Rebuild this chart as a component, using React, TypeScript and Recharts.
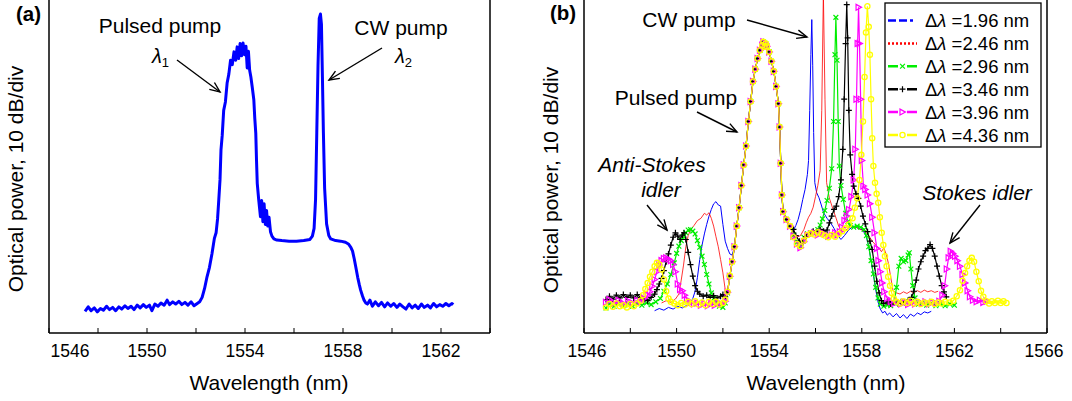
import React from "react";
import { LineChart, Line, XAxis, YAxis } from "recharts";

type Pt = [number, number];

const FONT = '"Liberation Sans", Arial, Helvetica, sans-serif';

// power is in dB above the bottom of the frame (10 dB per division, 6 divisions)
const powerTicks = [10, 20, 30, 40, 50];
const ticksA = [1546, 1548, 1550, 1552, 1554, 1556, 1558, 1560, 1562, 1564];
const ticksB = [1546, 1548, 1550, 1552, 1554, 1556, 1558, 1560, 1562, 1564, 1566];

// (a) pulsed pump + CW pump
const spectrumA: Pt[] = [
  [1547.47, 3.9], [1547.6, 4.7], [1547.72, 4.0], [1547.85, 4.5], [1547.97, 3.8], [1548.1, 4.4],
  [1548.22, 4.1], [1548.35, 4.8], [1548.47, 4.2], [1548.6, 4.6], [1548.72, 4.0], [1548.85, 4.7],
  [1548.97, 4.3], [1549.1, 4.9], [1549.22, 4.4], [1549.35, 4.8], [1549.47, 4.2], [1549.6, 5.0],
  [1549.72, 4.5], [1549.85, 5.1], [1549.97, 4.6], [1550.1, 5.0], [1550.2, 4.0], [1550.32, 5.2],
  [1550.45, 4.8], [1550.57, 5.4], [1550.7, 5.0], [1550.82, 5.9], [1550.92, 5.1], [1551.05, 5.6],
  [1551.17, 5.2], [1551.3, 5.7], [1551.42, 5.1], [1551.55, 5.5], [1551.67, 5.0], [1551.8, 5.6],
  [1551.92, 4.9], [1552.05, 5.3], [1552.15, 5.6], [1552.25, 6.4], [1552.35, 8.0], [1552.45, 10.1],
  [1552.55, 11.8], [1552.65, 14.2], [1552.75, 17.0], [1552.82, 18.0], [1552.88, 20.5], [1552.93, 23.9],
  [1552.98, 27.5], [1553.02, 32.9], [1553.07, 35.5], [1553.13, 40.0], [1553.2, 41.5], [1553.27, 44.9],
  [1553.34, 46.5], [1553.41, 49.0], [1553.48, 48.2], [1553.55, 50.5], [1553.62, 49.0], [1553.68, 51.4],
  [1553.74, 49.3], [1553.8, 52.0], [1553.86, 49.8], [1553.92, 52.1], [1553.98, 50.0], [1554.04, 51.5],
  [1554.09, 47.6], [1554.14, 50.6], [1554.19, 47.2], [1554.24, 46.0], [1554.3, 44.0], [1554.36, 41.9],
  [1554.4, 38.5], [1554.44, 35.9], [1554.47, 31.0], [1554.5, 26.9], [1554.56, 23.9], [1554.63, 20.9],
  [1554.68, 23.8], [1554.73, 20.0], [1554.78, 23.2], [1554.83, 19.5], [1554.88, 22.0], [1554.93, 19.2],
  [1554.98, 20.8], [1555.04, 18.2], [1555.1, 17.4], [1555.18, 16.9], [1555.3, 16.7], [1555.5, 16.6],
  [1555.8, 16.5], [1556.1, 16.5], [1556.4, 16.6], [1556.65, 16.8], [1556.75, 17.4], [1556.82, 18.8],
  [1556.88, 24], [1556.93, 36], [1556.98, 48], [1557.03, 56.5], [1557.08, 57.3], [1557.12, 55.5],
  [1557.16, 46], [1557.2, 36], [1557.25, 26], [1557.33, 19.6], [1557.42, 17.5], [1557.5, 16.9],
  [1557.7, 16.6], [1557.9, 16.5], [1558.1, 16.3], [1558.22, 16.0], [1558.32, 15.4], [1558.39, 14.7],
  [1558.46, 13.3], [1558.52, 11.9], [1558.6, 10.0], [1558.67, 8.6], [1558.72, 7.7], [1558.8, 6.6],
  [1558.86, 5.9], [1558.93, 5.4], [1559.0, 5.2], [1559.1, 5.9], [1559.2, 4.8], [1559.32, 5.6],
  [1559.45, 4.9], [1559.57, 5.5], [1559.7, 4.7], [1559.82, 5.4], [1559.95, 4.8], [1560.07, 5.3],
  [1560.2, 4.6], [1560.32, 5.2], [1560.45, 4.7], [1560.57, 4.3], [1560.7, 5.2], [1560.82, 4.5],
  [1560.95, 5.0], [1561.07, 4.4], [1561.2, 5.2], [1561.32, 4.6], [1561.45, 5.0], [1561.57, 4.5],
  [1561.7, 5.3], [1561.82, 4.7], [1561.95, 5.1], [1562.07, 4.8], [1562.2, 5.3], [1562.32, 4.9],
  [1562.45, 5.3], [1562.5, 5.1],
];

// (b) the pulsed pump is the same in every trace
const pumpCore: Pt[] = [
  [1552.5, 15.5], [1552.6, 19.2], [1552.7, 22.5], [1552.8, 26.5], [1552.9, 30.2], [1553.0, 33.6],
  [1553.1, 38.0], [1553.2, 41.6], [1553.3, 45.2], [1553.4, 47.4], [1553.5, 49.3], [1553.6, 50.8],
  [1553.7, 51.7], [1553.75, 52.3], [1553.8, 51.4], [1553.85, 52.0], [1553.9, 51.5], [1554.0, 50.5],
  [1554.1, 48.8], [1554.2, 47.0], [1554.3, 44.3], [1554.4, 41.2], [1554.45, 37.0], [1554.5, 30.5],
  [1554.55, 24.8], [1554.6, 21.8], [1554.75, 20.4], [1554.9, 19.2],
];

const blueLeft: Pt[] = [
  [1549.05, 4.0], [1549.25, 4.4], [1549.45, 4.1], [1549.65, 4.6], [1549.85, 4.3], [1550.05, 4.8],
  [1550.25, 4.5], [1550.45, 5.0], [1550.6, 5.4], [1550.7, 6.2], [1550.8, 7.5], [1550.9, 10],
  [1551.0, 13.2], [1551.1, 15.8], [1551.2, 17.8], [1551.3, 19.5], [1551.4, 21], [1551.5, 22.2],
  [1551.6, 23.2], [1551.7, 23.6], [1551.8, 23.0], [1551.9, 22.8], [1552.0, 19.5], [1552.1, 16.5],
  [1552.2, 15.2], [1552.3, 14.2], [1552.4, 14.0],
];
const blueRight: Pt[] = [
  [1555.05, 18.5], [1555.15, 19.3], [1555.25, 20.4], [1555.35, 22], [1555.45, 24], [1555.55, 25.8],
  [1555.65, 28.5], [1555.7, 31], [1555.75, 40], [1555.8, 50], [1555.84, 56.3], [1555.88, 48],
  [1555.92, 36], [1555.97, 27], [1556.05, 25.2], [1556.15, 24.3], [1556.25, 23], [1556.35, 21.6],
  [1556.5, 20.6], [1556.65, 19.8], [1556.8, 18.8], [1556.95, 17.6], [1557.1, 16.8], [1557.25, 17.5],
  [1557.45, 18.6], [1557.65, 19.2], [1557.85, 18.8], [1558.05, 18.5], [1558.2, 17.2], [1558.3, 15.5],
  [1558.4, 13], [1558.5, 10.5], [1558.6, 7.8], [1558.7, 5.6], [1558.8, 4.3], [1558.9, 3.6],
  [1559.0, 3.9], [1559.1, 3.2], [1559.2, 3.6], [1559.35, 2.9], [1559.5, 3.5], [1559.65, 2.7],
  [1559.8, 3.3], [1559.95, 2.6], [1560.1, 3.4], [1560.25, 3.0], [1560.4, 3.6], [1560.55, 3.3],
  [1560.7, 3.8], [1560.85, 3.6], [1561.0, 3.9],
];

const redLeft: Pt[] = [
  [1549.35, 5.4], [1549.55, 5.8], [1549.75, 5.5], [1549.95, 6.1], [1550.1, 7.0], [1550.2, 9.5],
  [1550.3, 12.2], [1550.4, 15.5], [1550.5, 17.5], [1550.6, 18.5], [1550.75, 19.3], [1550.9, 20.2],
  [1551.05, 20.6], [1551.2, 21.5], [1551.3, 21.2], [1551.4, 21.6], [1551.5, 20.6], [1551.6, 19.2],
  [1551.7, 17.3], [1551.8, 15.5], [1551.9, 13.2], [1552.0, 10.8], [1552.1, 7.8], [1552.2, 7.5],
  [1552.3, 10.2], [1552.4, 12.8],
];
const redRight: Pt[] = [
  [1555.05, 18], [1555.2, 17.2], [1555.35, 17.5], [1555.5, 18.6], [1555.6, 19.8], [1555.7, 20.8],
  [1555.8, 21.5], [1555.9, 22.6], [1556.0, 24.5], [1556.1, 26.5], [1556.2, 29.2], [1556.27, 40],
  [1556.34, 61], [1556.41, 42], [1556.48, 27], [1556.6, 24.2], [1556.75, 22.3], [1556.9, 20.5],
  [1557.0, 19.2], [1557.15, 18.2], [1557.35, 18.6], [1557.55, 19.2], [1557.75, 19.0], [1557.95, 18.6],
  [1558.15, 18.2], [1558.3, 17.5], [1558.45, 16.5], [1558.6, 15.8], [1558.75, 15.2], [1558.85, 14.6],
  [1558.95, 15.3], [1559.05, 14.2], [1559.15, 12.5], [1559.25, 10], [1559.35, 7.6], [1559.5, 7.2],
  [1559.65, 7.0], [1559.8, 7.4], [1559.95, 7.1], [1560.1, 7.5], [1560.25, 7.2], [1560.4, 7.6],
  [1560.55, 7.3], [1560.7, 7.7], [1560.85, 7.4], [1561.0, 7.6], [1561.15, 7.3], [1561.3, 7.5],
];

const greenLeft: Pt[] = [
  [1546.95, 4.5], [1547.1, 5.2], [1547.3, 4.8], [1547.5, 5.3], [1547.7, 4.9], [1547.9, 5.2],
  [1548.1, 4.8], [1548.3, 5.3], [1548.5, 5.0], [1548.7, 5.4], [1548.9, 5.1], [1549.1, 5.6],
  [1549.3, 6.2], [1549.45, 7.5], [1549.6, 8.8], [1549.75, 10.5], [1549.9, 12.6], [1550.0, 14.3],
  [1550.1, 15.6], [1550.2, 16.6], [1550.3, 17.3], [1550.4, 18.0], [1550.5, 18.5], [1550.6, 18.6],
  [1550.7, 18.3], [1550.8, 17.8], [1550.9, 16.6], [1551.0, 15.4], [1551.1, 13.8], [1551.2, 12.3],
  [1551.3, 10.5], [1551.4, 8.8], [1551.5, 7.2], [1551.6, 6.2], [1551.7, 5.5], [1551.85, 4.8],
  [1552.0, 4.6], [1552.1, 5.4], [1552.2, 7.2], [1552.3, 10.2], [1552.4, 12.8],
];
const greenRight: Pt[] = [
  [1555.05, 17.6], [1555.2, 16.3], [1555.35, 15.6], [1555.5, 17.2], [1555.65, 17.8], [1555.8, 18.0],
  [1555.95, 18.2], [1556.1, 18.6], [1556.2, 19.4], [1556.3, 20.5], [1556.4, 22.0], [1556.5, 23.8],
  [1556.6, 26.0], [1556.7, 29.5], [1556.78, 38], [1556.84, 50], [1556.88, 56.7], [1556.93, 49],
  [1556.98, 38], [1557.03, 30], [1557.1, 26.5], [1557.2, 24.0], [1557.3, 21.5], [1557.4, 20.0],
  [1557.5, 19.3], [1557.65, 19.0], [1557.8, 19.2], [1557.95, 19.0], [1558.1, 18.6], [1558.2, 17.5],
  [1558.3, 15.5], [1558.4, 13], [1558.5, 10.6], [1558.6, 8.2], [1558.7, 6.3], [1558.8, 5.2],
  [1558.95, 4.8], [1559.1, 5.0], [1559.25, 4.9], [1559.4, 5.4], [1559.5, 8.2], [1559.6, 12.0],
  [1559.7, 13.4], [1559.8, 12.8], [1559.9, 13.0], [1560.0, 14.0], [1560.05, 14.4], [1560.12, 11.5],
  [1560.2, 8.5], [1560.3, 6.3], [1560.45, 5.2], [1560.6, 5.4], [1560.8, 5.0], [1561.0, 5.3],
  [1561.2, 4.9], [1561.4, 5.2], [1561.6, 4.9], [1561.8, 5.2], [1562.0, 5.0],
];

const blackLeft: Pt[] = [
  [1546.95, 6.0], [1547.1, 6.6], [1547.25, 6.1], [1547.4, 6.8], [1547.55, 6.3], [1547.7, 6.9],
  [1547.85, 6.4], [1548.0, 6.8], [1548.15, 6.3], [1548.3, 6.9], [1548.45, 6.4], [1548.6, 6.0],
  [1548.75, 5.8], [1548.9, 6.4], [1549.05, 7.0], [1549.15, 7.8], [1549.25, 8.8], [1549.35, 9.8],
  [1549.45, 11.2], [1549.55, 12.8], [1549.65, 14.2], [1549.75, 15.8], [1549.85, 17.2], [1549.95, 18.0],
  [1550.05, 17.4], [1550.15, 16.8], [1550.25, 17.6], [1550.32, 18.0], [1550.4, 16.8], [1550.5, 14.5],
  [1550.6, 12.3], [1550.7, 10.2], [1550.8, 8.5], [1550.9, 7.5], [1551.0, 7.0], [1551.15, 6.6],
  [1551.3, 6.8], [1551.45, 6.4], [1551.6, 6.7], [1551.75, 6.3], [1551.9, 6.6], [1552.0, 6.9],
  [1552.1, 6.5], [1552.2, 7.4], [1552.3, 10.2], [1552.4, 12.8],
];
const blackRight: Pt[] = [
  [1555.05, 18.6], [1555.15, 17.5], [1555.3, 16.5], [1555.45, 16.2], [1555.6, 17.3], [1555.75, 17.8],
  [1555.9, 18.3], [1556.05, 18.1], [1556.2, 18.6], [1556.35, 18.3], [1556.5, 18.5], [1556.6, 19.8],
  [1556.7, 21.0], [1556.8, 22.2], [1556.9, 22.8], [1557.0, 24.5], [1557.1, 27.5], [1557.18, 33],
  [1557.24, 42], [1557.3, 52], [1557.35, 59], [1557.39, 53], [1557.44, 40], [1557.5, 32],
  [1557.58, 28.5], [1557.65, 26.4], [1557.75, 25], [1557.85, 24.2], [1557.95, 22.8], [1558.05, 21.0],
  [1558.15, 19.6], [1558.25, 18.2], [1558.35, 16.5], [1558.45, 15.0], [1558.55, 12.0], [1558.65, 9.3],
  [1558.75, 7.2], [1558.85, 5.8], [1558.95, 5.3], [1559.1, 5.6], [1559.25, 5.2], [1559.4, 5.5],
  [1559.55, 5.3], [1559.7, 5.6], [1559.85, 5.5], [1560.0, 5.9], [1560.15, 6.4], [1560.25, 7.5],
  [1560.35, 9.5], [1560.45, 11.5], [1560.55, 12.8], [1560.65, 13.8], [1560.75, 14.8], [1560.85, 15.2],
  [1560.95, 15.9], [1561.05, 15.2], [1561.15, 13.8], [1561.25, 12.0], [1561.35, 10.2], [1561.45, 8.5],
  [1561.55, 7.4], [1561.65, 6.5],
];

const magentaLeft: Pt[] = [
  [1546.95, 5.5], [1547.1, 6.0], [1547.3, 5.4], [1547.5, 5.9], [1547.7, 5.3], [1547.9, 5.8],
  [1548.1, 5.4], [1548.3, 5.9], [1548.45, 5.6], [1548.6, 6.2], [1548.75, 6.8], [1548.85, 7.4],
  [1548.95, 8.4], [1549.05, 9.6], [1549.15, 11.0], [1549.25, 12.2], [1549.35, 13.0], [1549.45, 13.4],
  [1549.55, 13.5], [1549.65, 13.3], [1549.75, 13.0], [1549.85, 12.3], [1549.95, 11.0], [1550.05, 8.8],
  [1550.15, 7.8], [1550.25, 7.6], [1550.35, 6.8], [1550.45, 6.0], [1550.6, 5.5], [1550.75, 5.2],
  [1550.9, 5.4], [1551.05, 5.0], [1551.2, 5.3], [1551.35, 4.9], [1551.5, 5.3], [1551.65, 5.0],
  [1551.8, 5.4], [1551.95, 5.2], [1552.1, 5.7], [1552.2, 7.3], [1552.3, 10.2], [1552.4, 12.8],
];
const magentaRight: Pt[] = [
  [1555.05, 17.4], [1555.2, 16.0], [1555.35, 15.3], [1555.5, 16.4], [1555.65, 17.5], [1555.8, 17.8],
  [1555.95, 18.0], [1556.1, 17.6], [1556.25, 18.1], [1556.4, 17.8], [1556.55, 17.4], [1556.7, 17.6],
  [1556.85, 18.0], [1556.95, 17.6], [1557.05, 18.2], [1557.15, 19.0], [1557.25, 20.2], [1557.35, 21.0],
  [1557.45, 22.2], [1557.55, 24.5], [1557.65, 27.5], [1557.72, 33], [1557.77, 42], [1557.82, 52],
  [1557.86, 58.5], [1557.9, 52], [1557.95, 42], [1558.0, 31], [1558.07, 26.4], [1558.15, 25.8],
  [1558.25, 24.8], [1558.35, 23.2], [1558.45, 20.8], [1558.55, 18.0], [1558.65, 15.2], [1558.72, 13],
  [1558.8, 11], [1558.88, 9], [1558.97, 7.4], [1559.1, 6.2], [1559.25, 5.6], [1559.4, 5.3],
  [1559.55, 5.6], [1559.7, 5.2], [1559.85, 5.5], [1560.0, 5.1], [1560.15, 5.5], [1560.3, 5.2],
  [1560.45, 5.6], [1560.6, 5.3], [1560.75, 5.6], [1560.9, 5.2], [1561.05, 5.5], [1561.2, 5.4],
  [1561.35, 5.7], [1561.48, 6.8], [1561.58, 8.5], [1561.67, 11.5], [1561.75, 13.5], [1561.84, 14.7],
  [1561.93, 14.3], [1562.03, 13.8], [1562.13, 13.0], [1562.24, 12.0], [1562.35, 10.5], [1562.46, 9.0],
  [1562.57, 7.6], [1562.67, 6.5], [1562.8, 5.9], [1562.96, 5.6], [1563.1, 5.9], [1563.25, 5.5],
  [1563.4, 5.7],
];

const yellowLeft: Pt[] = [
  [1546.95, 4.6], [1547.1, 5.2], [1547.25, 4.7], [1547.4, 5.3], [1547.55, 4.8], [1547.7, 5.0],
  [1547.85, 4.6], [1548.0, 5.2], [1548.15, 4.8], [1548.3, 5.3], [1548.45, 5.8], [1548.55, 6.8],
  [1548.65, 7.9], [1548.75, 9.0], [1548.85, 10.1], [1548.95, 11.0], [1549.05, 12.0], [1549.15, 12.6],
  [1549.25, 12.3], [1549.35, 11.4], [1549.45, 9.6], [1549.55, 7.5], [1549.65, 6.2], [1549.75, 5.6],
  [1549.9, 5.3], [1550.05, 5.0], [1550.2, 5.4], [1550.35, 5.1], [1550.5, 5.6], [1550.65, 5.2],
  [1550.8, 5.7], [1550.95, 5.1], [1551.1, 5.5], [1551.25, 5.0], [1551.4, 5.6], [1551.55, 5.2],
  [1551.7, 5.6], [1551.85, 5.1], [1552.0, 5.4], [1552.1, 6.0], [1552.2, 7.4], [1552.3, 10.3],
  [1552.4, 12.8],
];
const yellowRight: Pt[] = [
  [1555.05, 17.2], [1555.2, 16.0], [1555.35, 15.6], [1555.5, 16.6], [1555.65, 17.6], [1555.8, 17.9],
  [1555.95, 17.7], [1556.1, 18.1], [1556.25, 17.8], [1556.4, 17.5], [1556.55, 17.2], [1556.7, 17.6],
  [1556.85, 17.3], [1557.0, 17.8], [1557.15, 18.3], [1557.3, 18.8], [1557.45, 19.5], [1557.6, 20.6],
  [1557.7, 22.5], [1557.8, 24.2], [1557.9, 27.5], [1557.98, 32], [1558.05, 38], [1558.12, 46],
  [1558.18, 54], [1558.24, 58.7], [1558.3, 55], [1558.35, 50], [1558.4, 42], [1558.45, 35],
  [1558.5, 30], [1558.57, 27], [1558.64, 25], [1558.71, 23.4], [1558.78, 20.8], [1558.86, 18],
  [1558.93, 15.8], [1559.0, 13.8], [1559.07, 12], [1559.14, 10.1], [1559.22, 8.5], [1559.29, 7.2],
  [1559.38, 6.2], [1559.5, 5.6], [1559.65, 5.3], [1559.8, 5.7], [1559.95, 5.4], [1560.1, 5.8],
  [1560.25, 5.3], [1560.4, 5.6], [1560.55, 5.2], [1560.7, 5.5], [1560.85, 5.3], [1561.0, 5.6],
  [1561.15, 5.2], [1561.3, 5.5], [1561.45, 5.3], [1561.6, 5.6], [1561.8, 5.5], [1561.95, 5.8],
  [1562.1, 6.6], [1562.24, 7.7], [1562.35, 9.4], [1562.46, 10.8], [1562.55, 12.0], [1562.65, 13.0],
  [1562.75, 13.5], [1562.85, 12.8], [1562.95, 11.0], [1563.05, 9.3], [1563.15, 7.6], [1563.25, 6.5],
  [1563.38, 5.7], [1563.5, 5.3], [1563.62, 5.7], [1563.75, 5.4], [1563.88, 5.8], [1564.0, 5.4],
  [1564.12, 5.7], [1564.25, 5.4],
];

const deltaLabels = ["1.96", "2.46", "2.96", "3.46", "3.96", "4.36"];

const toRows = (pts: Pt[]) => pts.map(([x, y]) => ({ x, y }));

const seriesB = [
  { label: deltaLabels[0], color: "#0000ff", marker: "none", width: 1, dash: "8 3 8 3 3 4", pts: [...blueLeft, ...pumpCore, ...blueRight] },
  { label: deltaLabels[1], color: "#ff0000", marker: "none", width: 0.8, dash: "2 2", pts: [...redLeft, ...pumpCore, ...redRight] },
  { label: deltaLabels[2], color: "#00ee00", marker: "x", width: 1.2, dash: "10 9", pts: [...greenLeft, ...pumpCore, ...greenRight] },
  { label: deltaLabels[3], color: "#000000", marker: "plus", width: 1.2, dash: "10 9", pts: [...blackLeft, ...pumpCore, ...blackRight] },
  { label: deltaLabels[4], color: "#ff00ff", marker: "tri", width: 1.2, dash: "10 9", pts: [...magentaLeft, ...pumpCore, ...magentaRight] },
  { label: deltaLabels[5], color: "#ffff00", marker: "circle", width: 1.2, dash: "10 9", pts: [...yellowLeft, ...pumpCore, ...yellowRight] },
];

function markerShape(kind: string, color: string, cx: number, cy: number, key: string) {
  if (kind === "x")
    return <path key={key} d={`M${cx - 2.4} ${cy - 2.4}L${cx + 2.4} ${cy + 2.4}M${cx - 2.4} ${cy + 2.4}L${cx + 2.4} ${cy - 2.4}`} stroke={color} strokeWidth={1.2} fill="none" />;
  if (kind === "plus")
    return <path key={key} d={`M${cx - 3} ${cy}H${cx + 3}M${cx} ${cy - 3}V${cy + 3}`} stroke={color} strokeWidth={1.2} fill="none" />;
  if (kind === "tri")
    return <path key={key} d={`M${cx - 2.5} ${cy - 3}L${cx + 3} ${cy}L${cx - 2.5} ${cy + 3}Z`} stroke={color} strokeWidth={1.2} fill="none" />;
  return <circle key={key} cx={cx} cy={cy} r={2.6} stroke={color} strokeWidth={1.3} fill="none" />;
}

const dotFor = (kind: string, color: string) => (p: any) => {
  const key = `${kind}-${p.index}`;
  if (typeof p.cx !== "number" || typeof p.cy !== "number") return <g key={key} />;
  return markerShape(kind, color, p.cx, p.cy, key);
};

function WlTick(props: any) {
  const { x, y, payload, shifts } = props;
  const v = payload.value;
  if ((v - 1546) % 4 !== 0) return <g />;
  const dx = (shifts && shifts[v]) || 0;
  return (
    <text x={x + dx} y={y} dy="0.71em" textAnchor="middle" fontSize={17.5} fill="#000" fontFamily={FONT}>
      {v}
    </text>
  );
}

function Frame({ domain, ticks, shifts }: { domain: [number, number]; ticks: number[]; shifts: Record<number, number> }) {
  const line = { stroke: "#000", strokeWidth: 1.5 };
  return (
    <>
      <XAxis xAxisId="b" dataKey="x" type="number" domain={domain} ticks={ticks} interval={0} allowDataOverflow
        height={68} axisLine={line} tickLine={{ stroke: "#000" }} tickSize={-5} tickMargin={17}
        tick={<WlTick shifts={shifts} />} />
      <XAxis xAxisId="t" orientation="top" dataKey="x" type="number" domain={domain} ticks={ticks} interval={0}
        allowDataOverflow height={1} axisLine={line} tickLine={{ stroke: "#000" }} tickSize={-5} tick={false} />
      <YAxis yAxisId="l" type="number" domain={[0, 60]} ticks={powerTicks} interval={0} allowDataOverflow width={1}
        axisLine={line} tickLine={{ stroke: "#000" }} tickSize={-5} tick={false} />
      <YAxis yAxisId="r" orientation="right" type="number" domain={[0, 60]} ticks={powerTicks} interval={0}
        allowDataOverflow width={1} axisLine={line} tickLine={{ stroke: "#000" }} tickSize={-5} tick={false} />
    </>
  );
}

function Arrow({ x1, y1, x2, y2 }: { x1: number; y1: number; x2: number; y2: number }) {
  const a = Math.atan2(y2 - y1, x2 - x1);
  const len = 11;
  const w = 0.4;
  const p1 = `${x2 - len * Math.cos(a - w)},${y2 - len * Math.sin(a - w)}`;
  const p2 = `${x2 - len * Math.cos(a + w)},${y2 - len * Math.sin(a + w)}`;
  return (
    <g stroke="#000" strokeWidth={1.4} fill="none">
      <line x1={x1} y1={y1} x2={x2} y2={y2} />
      <polyline points={`${p1} ${x2},${y2} ${p2}`} />
    </g>
  );
}

function Lambda({ x, y, sub }: { x: number; y: number; sub: string }) {
  return (
    <text x={x} y={y} fontSize={20} fontFamily={FONT}>
      <tspan fontStyle="italic">λ</tspan>
      <tspan fontSize={13} dy={4}>{sub}</tspan>
    </text>
  );
}

export default function App() {
  const rowsA = toRows(spectrumA);
  return (
    <div style={{ position: "absolute", left: 0, top: 0, width: 1072, height: 401, overflow: "hidden", background: "#fff" }}>
      <div style={{ position: "absolute", left: 0, top: -2 }}>
        <LineChart width={540} height={403} margin={{ top: 0, right: 49, bottom: 0, left: 48 }}>
          {Frame({ domain: [1546, 1564], ticks: ticksA, shifts: { 1546: 21 } })}
          <Line xAxisId="b" yAxisId="l" data={rowsA} dataKey="y" type="linear" stroke="#0000ff" strokeWidth={3}
            strokeLinejoin="round" dot={false} activeDot={false} isAnimationActive={false} />
        </LineChart>
      </div>
      <div style={{ position: "absolute", left: 540, top: -2 }}>
        <LineChart width={532} height={403} margin={{ top: 0, right: 24, bottom: 0, left: 43 }}>
          {Frame({ domain: [1546, 1566], ticks: ticksB, shifts: { 1546: 3, 1566: -3 } })}
          {seriesB.map((s) => (
            <Line key={s.label} xAxisId="b" yAxisId="l" data={toRows(s.pts)} dataKey="y" type="linear"
              stroke={s.color} strokeWidth={s.width}
              dot={s.marker === "none" ? false : dotFor(s.marker, s.color)}
              activeDot={false} isAnimationActive={false} />
          ))}
        </LineChart>
      </div>

      <svg width={1072} height={401} style={{ position: "absolute", left: 0, top: 0, pointerEvents: "none" }} fontFamily={FONT}>
        {/* panel (a) */}
        <text x={16} y={21} fontSize={20.5} fontWeight="bold">(a)</text>
        <text transform="translate(23,179) rotate(-90)" textAnchor="middle" fontSize={21}>Optical power, 10 dB/div</text>
        <text x={269} y={390} textAnchor="middle" fontSize={21}>Wavelength (nm)</text>
        <text x={160} y={33} textAnchor="middle" fontSize={21}>Pulsed pump</text>
        <Lambda x={152} y={63} sub="1" />
        <Arrow x1={177} y1={60} x2={220} y2={92} />
        <text x={401} y={35} textAnchor="middle" fontSize={21}>CW pump</text>
        <Lambda x={395} y={63} sub="2" />
        <Arrow x1={382} y1={48} x2={329} y2={80} />

        {/* panel (b) */}
        <text x={550} y={20} fontSize={20.5} fontWeight="bold">(b)</text>
        <text transform="translate(558,180) rotate(-90)" textAnchor="middle" fontSize={21}>Optical power, 10 dB/div</text>
        <text x={826} y={390} textAnchor="middle" fontSize={21}>Wavelength (nm)</text>
        <text x={689} y={27} textAnchor="middle" fontSize={21}>CW pump</text>
        <Arrow x1={747} y1={20} x2={807} y2={37} />
        <text x={676} y={105} textAnchor="middle" fontSize={21}>Pulsed pump</text>
        <Arrow x1={697} y1={112} x2={737} y2={132} />
        <text x={652} y={172} textAnchor="middle" fontSize={21} fontStyle="italic">Anti-Stokes</text>
        <text x={661} y={197} textAnchor="middle" fontSize={21} fontStyle="italic">idler</text>
        <Arrow x1={647} y1={205} x2={667} y2={230} />
        <text x={977} y={200} textAnchor="middle" fontSize={21} fontStyle="italic">Stokes idler</text>
        <Arrow x1={980} y1={205} x2={950} y2={243} />

        {/* legend */}
        <rect x={885} y={3} width={156} height={144} fill="#fff" stroke="#000" strokeWidth={1.3} />
        {seriesB.map((s, i) => {
          const cy = 20.5 + i * 22.9;
          return (
            <g key={s.label}>
              <line x1={888} y1={cy} x2={917} y2={cy} stroke={s.color} strokeWidth={2.5} strokeDasharray={s.dash} />
              {s.marker !== "none" && markerShape(s.marker, s.color, 902.5, cy, `lg-${i}`)}
              <text x={925} y={cy + 6.5} fontSize={18.5}>
                Δ<tspan fontStyle="italic">λ</tspan> ={s.label} nm
              </text>
            </g>
          );
        })}
      </svg>
    </div>
  );
}
